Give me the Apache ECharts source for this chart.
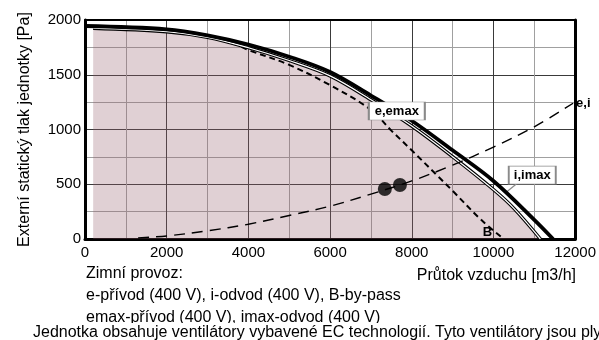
<!DOCTYPE html>
<html>
<head>
<meta charset="utf-8">
<script src="https://cdn.jsdelivr.net/npm/echarts@6/dist/echarts.min.js"></script>
<style>
  html, body { margin: 0; padding: 0; background: #fff; }
  #chart { width: 599px; height: 340px; }
</style>
</head>
<body>
<div id="chart"></div>
<script>
// hodnoty [průtok m3/h, tlak Pa]
const curveImax = [[0, 1945], [2000, 1915], [3000, 1860], [4000, 1776], [5000, 1665], [6000, 1525], [7000, 1310], [8000, 1080], [9000, 810], [10000, 530], [11000, 175], [11460, 0]];
const curveEmax = [[200, 1925], [2000, 1893], [3000, 1842], [4000, 1747], [5000, 1630], [6000, 1490], [7000, 1272], [8000, 1032], [9000, 752], [10000, 452], [10500, 280], [11150, 0]];
const curveBypass = [[200, 1925], [2000, 1893], [3000, 1842], [3700, 1775], [4000, 1726], [5000, 1590], [6000, 1405], [7000, 1180], [7500, 990], [8000, 810], [8660, 566], [9000, 440], [9700, 175], [10250, 0]];
const curveSystem = [[1300, 10], [2000, 28], [3000, 75], [4000, 135], [5000, 215], [6000, 300], [7000, 410], [8000, 530], [9000, 675], [10000, 840], [11000, 1025], [11950, 1240]];
const workPoints = [[7340, 457], [7710, 493]];

const xTicks = { min: 0, max: 12000, step: 2000 };
const yTicks = { min: 0, max: 2000, step: 500 };

const noteLines = [
    'Zimní provoz:',
    'e-přívod (400 V), i-odvod (400 V), B-by-pass',
    'emax-přívod (400 V), imax-odvod (400 V)'
];
const footText = 'Jednotka obsahuje ventilátory vybavené EC technologií. Tyto ventilátory jsou plynule regulovatelné.';

const chart = echarts.init(document.getElementById('chart'));

const font = '"Liberation Sans", Arial, sans-serif';

// popisek v rámečku: rámeček je symbol, text bez pozadí
const boxMark = (coord, text, width) => ({
    coord: coord,
    symbol: 'rect',
    symbolSize: [width, 18],
    itemStyle: { color: '#fff', borderColor: '#8a8a8a', borderWidth: 1.2 },
    label: {
        show: true, position: 'inside', formatter: text,
        color: '#000', fontFamily: font, fontSize: 13, fontWeight: 'bold'
    }
});

// okrajové osy nahoře a vpravo (jen čára)
const frameAxis = {
    type: 'value',
    axisLine: { show: true, onZero: false, lineStyle: { color: '#000', width: 2 } },
    axisTick: { show: false },
    axisLabel: { show: false },
    splitLine: { show: false }
};

const smooth = 0.35;

const option = {
    animation: false,
    grid: { left: 85, right: 23, top: 20, bottom: 101 },
    xAxis: [
        {
            type: 'value',
            min: xTicks.min, max: xTicks.max, interval: xTicks.step / 2,
            axisLine: { show: true, onZero: false, lineStyle: { color: '#000', width: 3 } },
            axisTick: { show: false },
            axisLabel: {
                color: '#000', fontFamily: font, fontSize: 15, margin: 6,
                formatter: v => (v % xTicks.step === 0 ? String(v) : '')
            },
            splitLine: { show: true, lineStyle: { color: ['#3a3a3a', '#a0a0a0'], width: 1 } }
        },
        Object.assign({ position: 'top', min: xTicks.min, max: xTicks.max }, frameAxis)
    ],
    yAxis: [
        {
            type: 'value',
            min: yTicks.min, max: yTicks.max, interval: yTicks.step / 2,
            name: 'Externí statický tlak jednotky [Pa]',
            nameLocation: 'middle',
            nameGap: 52,
            nameTextStyle: { color: '#000', fontFamily: font, fontSize: 16 },
            axisLine: { show: true, onZero: false, lineStyle: { color: '#000', width: 3 } },
            axisTick: { show: false },
            axisLabel: {
                color: '#000', fontFamily: font, fontSize: 15, margin: 4,
                formatter: v => (v % yTicks.step === 0 ? String(v) : '')
            },
            splitLine: { show: true, lineStyle: { color: ['#3a3a3a', '#a0a0a0'], width: 1 } }
        },
        Object.assign({ position: 'right', min: yTicks.min, max: yTicks.max }, frameAxis, {
            axisLine: { show: true, onZero: false, lineStyle: { color: '#000', width: 3 } }
        })
    ],
    series: [
        {
            // plocha pracovní oblasti + dvojitá čára
            type: 'line',
            data: curveEmax,
            smooth: smooth,
            symbol: 'none',
            lineStyle: { color: '#000', width: 3.4 },
            areaStyle: { color: 'rgba(150,96,110,0.42)', origin: 'start' },
            z: 2
        },
        {
            type: 'line',
            data: curveBypass,
            smooth: smooth,
            symbol: 'none',
            lineStyle: { color: '#000', width: 2, type: [6, 4] },
            z: 2,
            markPoint: {
                symbol: 'circle',
                symbolSize: 0,
                data: [
                    { coord: [9854, 64], label: { show: true, formatter: 'B', color: '#000', fontFamily: font, fontSize: 13, fontWeight: 'bold' } }
                ]
            }
        },
        {
            type: 'line',
            data: curveEmax,
            smooth: smooth,
            symbol: 'none',
            lineStyle: { color: '#fff', width: 1.2 },
            z: 3
        },
        {
            // odkaz od popisku i,imax ke křivce
            type: 'line',
            data: [[10560, 502], [10320, 429]],
            symbol: 'none',
            silent: true,
            lineStyle: { color: '#8a8a8a', width: 1.2 },
            z: 3
        },
        {
            type: 'line',
            data: curveImax,
            smooth: smooth,
            symbol: 'none',
            lineStyle: { color: '#000', width: 3.8 },
            z: 3,
            markPoint: {
                data: [
                    boxMark([7634, 1169], 'e,emax', 56),
                    boxMark([10950, 584], 'i,imax', 47)
                ]
            }
        },
        {
            type: 'line',
            data: curveSystem,
            smooth: smooth,
            symbol: 'none',
            lineStyle: { color: '#000', width: 1.4, type: [11, 7] },
            z: 3,
            endLabel: {
                show: true, formatter: 'e,i', distance: 3,
                color: '#000', fontFamily: font, fontSize: 13, fontWeight: 'bold'
            }
        },
        {
            type: 'scatter',
            data: workPoints,
            symbol: 'circle',
            symbolSize: 14,
            itemStyle: { color: '#000' },
            z: 4
        }
    ],
    graphic: [
        {
            type: 'text', right: 23, top: 268,
            style: { text: 'Průtok vzduchu [m3/h]', fill: '#000', font: '16px ' + font }
        },
        {
            type: 'text', left: 86, top: 266,
            style: { text: noteLines[0], fill: '#000', font: '16px ' + font }
        },
        {
            type: 'text', left: 86, top: 288,
            style: { text: noteLines[1], fill: '#000', font: '16px ' + font }
        },
        {
            type: 'text', left: 86, top: 310,
            style: { text: noteLines[2], fill: '#000', font: '16px ' + font }
        },
        {
            // bílý pruh zakrývá spodek předchozího řádku
            type: 'rect', left: 0, top: 323, z: 10,
            shape: { width: 599, height: 17 },
            style: { fill: '#fff' }
        },
        {
            type: 'text', left: 33, top: 325, z: 11,
            style: { text: footText, fill: '#000', font: '16px ' + font }
        }
    ]
};

chart.setOption(option);
</script>
</body>
</html>
